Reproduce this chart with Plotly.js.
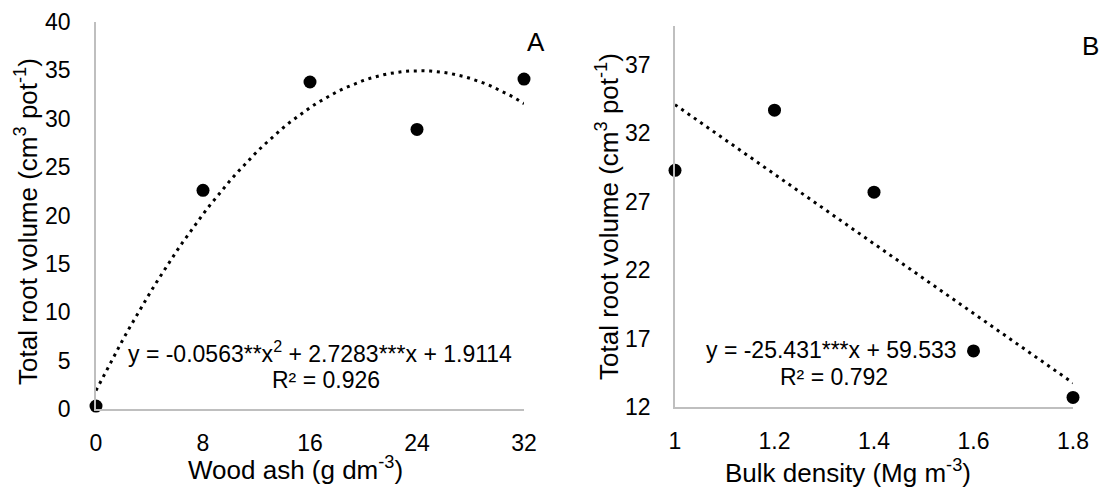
<!DOCTYPE html>
<html><head><meta charset="utf-8">
<script src="https://cdn.plot.ly/plotly-3.0.1.min.js"></script>
<style>html,body{margin:0;padding:0;background:#fff}#c{width:1101px;height:488px}</style>
</head><body><div id="c"></div>
<script>
// Panel A data
const ashX = [0, 8, 16, 24, 32];
const ashY = [0.3, 22.6, 33.8, 28.9, 34.1];
const ashCoef = [-0.0563, 2.7283, 1.9114]; // quadratic trendline printed in chart
const ashTicks = [0, 8, 16, 24, 32];
const ashYTicks = [0, 5, 10, 15, 20, 25, 30, 35, 40];
// Panel B data
const bdX = [1, 1.2, 1.4, 1.6, 1.8];
const bdY = [29.3, 33.7, 27.7, 16.1, 12.7];
const bdCoef = [-25.431, 59.533]; // linear trendline printed in chart
const bdTicks = [1, 1.2, 1.4, 1.6, 1.8];
const bdTickText = ['1', '1.2', '1.4', '1.6', '1.8'];
const bdYTicks = [12, 17, 22, 27, 32, 37];

const ashTx = [], ashTy = [];
for (let i = 0; i <= 64; i++) { const x = i * 0.5; ashTx.push(x); ashTy.push(ashCoef[0]*x*x + ashCoef[1]*x + ashCoef[2]); }
const bdTx = [bdX[0], bdX[bdX.length-1]];
const bdTy = bdTx.map(x => bdCoef[0]*x + bdCoef[1]);

const W = 1101, H = 488;
const FAM = 'Liberation Sans, Arial, sans-serif';
const f = s => ({family: FAM, color: '#000', size: s});
const dotLine = {color: '#000', width: 3, dash: '3px,4.7px'};
const traces = [
  {x: ashTx, y: ashTy, xaxis: 'x', yaxis: 'y', mode: 'lines', line: dotLine, hoverinfo: 'skip', cliponaxis: false},
  {x: ashX, y: ashY, xaxis: 'x', yaxis: 'y', mode: 'markers', marker: {color: '#000', size: 13}, cliponaxis: false},
  {x: bdTx, y: bdTy, xaxis: 'x2', yaxis: 'y2', mode: 'lines', line: dotLine, hoverinfo: 'skip', cliponaxis: false},
  {x: bdX, y: bdY, xaxis: 'x2', yaxis: 'y2', mode: 'markers', marker: {color: '#000', size: 13}, cliponaxis: false}
];
const ax = {showgrid: false, zeroline: false, showline: true, linecolor: '#bfbfbf', linewidth: 1.75, ticks: '', tickfont: f(23), fixedrange: true};
const ann = (x, y, text, size, extra) => Object.assign({xref: 'paper', yref: 'paper', x: x/W, y: 1 - y/H, text: text, showarrow: false, font: f(size), xanchor: 'center', yanchor: 'middle'}, extra || {});
const layout = {
  width: W, height: H, margin: {l: 0, r: 0, t: 0, b: 0},
  paper_bgcolor: '#fff', plot_bgcolor: 'rgba(0,0,0,0)', showlegend: false, font: f(23),
  xaxis: Object.assign({}, ax, {domain: [96/W, 524/W], range: [0, 32], tickvals: ashTicks, ticktext: ashTicks.map(String), ticklabelstandoff: 13, anchor: 'y'}),
  yaxis: Object.assign({}, ax, {domain: [1 - 409/H, 1 - 22/H], range: [0, 40], tickvals: ashYTicks, ticklabelstandoff: 19, anchor: 'x'}),
  xaxis2: Object.assign({}, ax, {domain: [675/W, 1073/W], range: [1, 1.8], tickvals: bdTicks, ticktext: bdTickText, ticklabelstandoff: 13, anchor: 'y2'}),
  yaxis2: Object.assign({}, ax, {domain: [1 - 407/H, 1 - 26/H], range: [12, 39.85], tickvals: bdYTicks, ticklabelstandoff: 18, anchor: 'x2'}),
  annotations: [
    ann(26, 222, 'Total root volume (cm<sup>3</sup> pot<sup>-1</sup>)', 26, {textangle: -90}),
    ann(295, 468, 'Wood ash (g dm<sup>-3</sup>)', 26),
    ann(607, 217, 'Total root volume (cm<sup>3</sup> pot<sup>-1</sup>)', 26, {textangle: -90}),
    ann(848, 471, 'Bulk density (Mg m<sup>-3</sup>)', 26),
    ann(320, 352, 'y = -0.0563**x<sup>2</sup> + 2.7283***x + 1.9114', 23),
    ann(326, 380, 'R² = 0.926', 23),
    ann(832, 350, 'y = -25.431***x + 59.533', 23),
    ann(834, 377, 'R² = 0.792', 23),
    ann(536, 42, 'A', 26),
    ann(1090, 46, 'B', 26)
  ]
};
Plotly.newPlot('c', traces, layout, {displayModeBar: false, staticPlot: true});
</script></body></html>
